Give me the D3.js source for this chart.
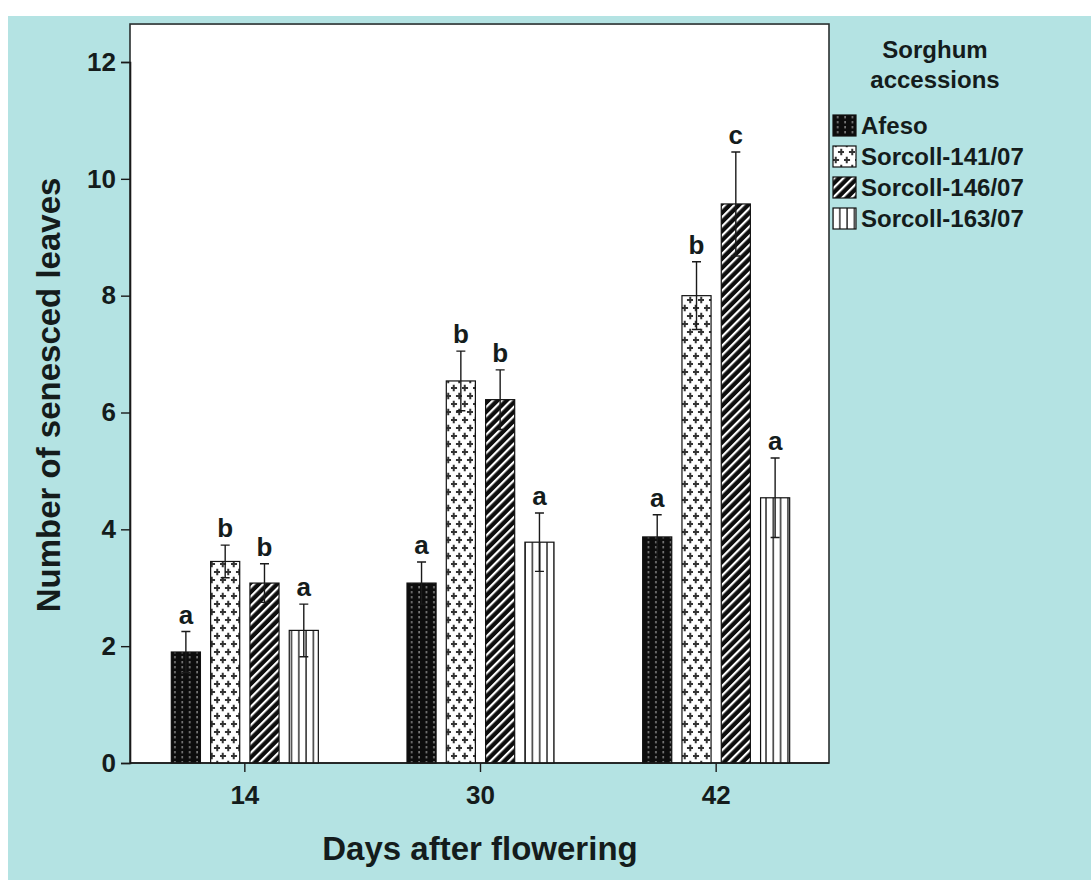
<!DOCTYPE html>
<html>
<head>
<meta charset="utf-8">
<script src="https://cdn.jsdelivr.net/npm/d3@7"></script>
<style>
	body { margin: 0; background: #fff; }
	svg { display: block; }
	text { font-family: "Liberation Sans", Arial, sans-serif; font-weight: bold; fill: #141c1c; }
</style>
</head>
<body>
<svg id="chart" width="1091" height="880"></svg>
<script>
// days after flowering (x groups)
const days = ["14", "30", "42"];
const accessions = ["Afeso", "Sorcoll-141/07", "Sorcoll-146/07", "Sorcoll-163/07"];

// mean number of senesced leaves, one array per accession (14, 30, 42 days)
const afeso = [1.9, 3.08, 3.87];
const sorcoll141 = [3.45, 6.54, 8.0];
const sorcoll146 = [3.08, 6.22, 9.57];
const sorcoll163 = [2.27, 3.78, 4.54];

// error bar half-widths
const afesoErr = [0.35, 0.36, 0.38];
const sorcoll141Err = [0.28, 0.51, 0.58];
const sorcoll146Err = [0.33, 0.51, 0.89];
const sorcoll163Err = [0.45, 0.5, 0.68];

// significance letters
const afesoSig = ["a", "a", "a"];
const sorcoll141Sig = ["b", "b", "b"];
const sorcoll146Sig = ["b", "b", "c"];
const sorcoll163Sig = ["a", "a", "a"];

const yTicks = [0, 2, 4, 6, 8, 10, 12];

const seriesValues = [afeso, sorcoll141, sorcoll146, sorcoll163];
const seriesErr = [afesoErr, sorcoll141Err, sorcoll146Err, sorcoll163Err];
const seriesSig = [afesoSig, sorcoll141Sig, sorcoll146Sig, sorcoll163Sig];

const rows = [];
days.forEach((day, i) => {
	accessions.forEach((acc, j) => {
		rows.push({
			day: day,
			acc: acc,
			value: seriesValues[j][i],
			err: seriesErr[j][i],
			sig: seriesSig[j][i],
		});
	});
});

const svg = d3.select("#chart");

// cyan background panel
svg.append("rect")
	.attr("x", 8).attr("y", 16)
	.attr("width", 1083).attr("height", 864)
	.attr("fill", "#b4e3e3");

// patterns
const defs = svg.append("defs");

const pAfeso = defs.append("pattern")
	.attr("id", "p-afeso")
	.attr("patternUnits", "userSpaceOnUse")
	.attr("width", 7.4).attr("height", 5);
pAfeso.append("rect").attr("width", 7.4).attr("height", 5).attr("fill", "#0d0d0d");
pAfeso.append("rect").attr("x", 4).attr("y", 1).attr("width", 1.4).attr("height", 2.4).attr("fill", "#8a8a8a");

const pCross = defs.append("pattern")
	.attr("id", "p-141")
	.attr("patternUnits", "userSpaceOnUse")
	.attr("width", 11).attr("height", 16);
pCross.append("rect").attr("width", 11).attr("height", 16).attr("fill", "#fff");
[[2.75, 4], [8.25, 12]].forEach(([cx, cy]) => {
	pCross.append("path")
		.attr("d", `M${cx - 3.3},${cy}H${cx + 3.3}M${cx},${cy - 3.3}V${cy + 3.3}`)
		.attr("stroke", "#333").attr("stroke-width", 2);
});

const pDiag = defs.append("pattern")
	.attr("id", "p-146")
	.attr("patternUnits", "userSpaceOnUse")
	.attr("width", 6.5).attr("height", 10)
	.attr("patternTransform", "rotate(45)");
pDiag.append("rect").attr("width", 6.5).attr("height", 10).attr("fill", "#0d0d0d");
pDiag.append("rect").attr("x", 0).attr("width", 2.2).attr("height", 10).attr("fill", "#fff");

const pVert = defs.append("pattern")
	.attr("id", "p-163")
	.attr("patternUnits", "userSpaceOnUse")
	.attr("width", 7.3).attr("height", 10)
	.attr("x", 171);
pVert.append("rect").attr("width", 7.3).attr("height", 10).attr("fill", "#fff");
pVert.append("rect").attr("x", 3).attr("width", 1.4).attr("height", 10).attr("fill", "#222");

const fills = d3.scaleOrdinal()
	.domain(accessions)
	.range(["url(#p-afeso)", "url(#p-141)", "url(#p-146)", "url(#p-163)"]);

// scales
const x = d3.scaleBand().domain(days).range([127, 834]);
const xSub = d3.scaleBand().domain(accessions).range([-73.5, 73.5]).paddingInner(0.26);
const y = d3.scaleLinear().domain([0, 12]).range([763, 62]);

const plotLeft = 130, plotRight = 829;

// white plot area
svg.append("rect")
	.attr("x", plotLeft).attr("y", y(12.65))
	.attr("width", plotRight - plotLeft).attr("height", y(0) - y(12.65))
	.attr("fill", "#fff")
	.attr("stroke", "#2a2f2f").attr("stroke-width", 1.6);

const g = svg.append("g");

// bars
g.selectAll(".bar")
	.data(rows)
	.enter()
	.append("rect")
	.attr("class", "bar")
	.attr("x", (d) => x(d.day) + x.bandwidth() / 2 + xSub(d.acc))
	.attr("y", (d) => y(d.value))
	.attr("width", xSub.bandwidth())
	.attr("height", (d) => y(0) - y(d.value))
	.attr("fill", (d) => fills(d.acc))
	.attr("stroke", "#111")
	.attr("stroke-width", 1.2);

// error bars
const cx = (d) => x(d.day) + x.bandwidth() / 2 + xSub(d.acc) + xSub.bandwidth() / 2;
const eb = g.selectAll(".err").data(rows).enter().append("g").attr("class", "err");
eb.append("path")
	.attr("d", (d) => {
		const c = cx(d), t = y(d.value + d.err), b = y(d.value - d.err);
		return `M${c},${t}V${b}M${c - 4.5},${t}H${c + 4.5}M${c - 4.5},${b}H${c + 4.5}`;
	})
	.attr("stroke", "#1a1a1a")
	.attr("stroke-width", 1.4)
	.attr("fill", "none");

// letters above the error bars
g.selectAll(".sig")
	.data(rows)
	.enter()
	.append("text")
	.attr("class", "sig")
	.attr("x", cx)
	.attr("y", (d) => y(d.value + d.err) - 8)
	.attr("text-anchor", "middle")
	.style("font-size", "26px")
	.text((d) => d.sig);

// y axis
const yAxis = svg.append("g")
	.attr("transform", `translate(${plotLeft},0)`)
	.call(d3.axisLeft(y).tickValues(yTicks).tickSize(9).tickPadding(5));
yAxis.select(".domain").attr("stroke", "#1a1a1a").attr("stroke-width", 1.6);
yAxis.selectAll(".tick line").attr("stroke", "#1a1a1a").attr("stroke-width", 1.4);
yAxis.selectAll(".tick text")
	.style("font-size", "26px")
	.style("font-family", "'Liberation Sans', Arial, sans-serif")
	.attr("fill", "#141c1c");

// x axis
const xAxis = svg.append("g")
	.attr("transform", `translate(0,${y(0)})`)
	.call(d3.axisBottom(x).tickSize(9).tickPadding(14).tickSizeOuter(0));
xAxis.select(".domain").attr("d", `M${plotLeft},0H${plotRight}`).attr("stroke", "#1a1a1a").attr("stroke-width", 1.6);
xAxis.selectAll(".tick line").attr("stroke", "#1a1a1a").attr("stroke-width", 1.4);
xAxis.selectAll(".tick text")
	.style("font-size", "26px")
	.style("font-family", "'Liberation Sans', Arial, sans-serif")
	.attr("fill", "#141c1c");

// axis titles
svg.append("text")
	.attr("transform", "translate(60,395) rotate(-90)")
	.attr("text-anchor", "middle")
	.style("font-size", "33px")
	.text("Number of senesced leaves");

svg.append("text")
	.attr("x", 480).attr("y", 860)
	.attr("text-anchor", "middle")
	.style("font-size", "33px")
	.text("Days after flowering");

// legend
const legend = svg.append("g");
legend.append("text")
	.attr("x", 935).attr("y", 58)
	.attr("text-anchor", "middle")
	.style("font-size", "24px")
	.text("Sorghum");
legend.append("text")
	.attr("x", 935).attr("y", 88)
	.attr("text-anchor", "middle")
	.style("font-size", "24px")
	.text("accessions");

const legendY = d3.scalePoint().domain(accessions).range([125, 218]);
const items = legend.selectAll(".item")
	.data(accessions)
	.enter()
	.append("g")
	.attr("class", "item")
	.attr("transform", (d) => `translate(833,${legendY(d)})`);
items.append("rect")
	.attr("x", 0).attr("y", -10)
	.attr("width", 23).attr("height", 21)
	.attr("fill", (d) => fills(d))
	.attr("stroke", "#111").attr("stroke-width", 1.2);
items.append("text")
	.attr("x", 28).attr("y", 9)
	.style("font-size", "24px")
	.text((d) => d);
</script>
</body>
</html>
